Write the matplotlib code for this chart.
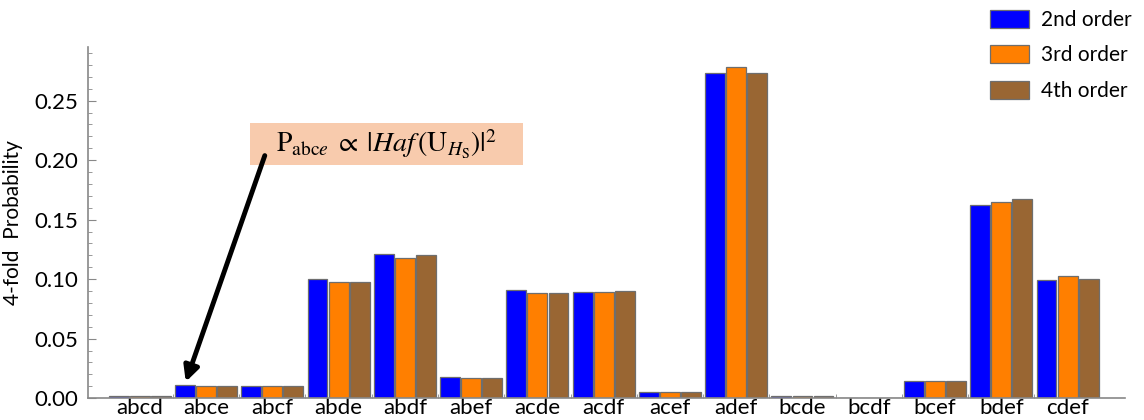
import numpy as np
import matplotlib
matplotlib.use("Agg")
import matplotlib.pyplot as plt
from matplotlib.patches import Rectangle
from matplotlib.ticker import MultipleLocator, FixedLocator

plt.rcParams['font.family'] = ['Lato', 'DejaVu Sans']
plt.rcParams['mathtext.fontset'] = 'stix'

# four-fold coincidence patterns and their probabilities per expansion order
patterns = ['abcd', 'abce', 'abcf', 'abde', 'abdf', 'abef', 'acde', 'acdf',
            'acef', 'adef', 'bcde', 'bcdf', 'bcef', 'bdef', 'cdef']
order2 = [0.002, 0.011, 0.010, 0.100, 0.121, 0.018, 0.091, 0.089,
          0.005, 0.2735, 0.002, 0.0002, 0.014, 0.1625, 0.0995]
order3 = [0.0015, 0.0098, 0.0098, 0.098, 0.118, 0.017, 0.088, 0.089,
          0.005, 0.2785, 0.0015, 0.0002, 0.014, 0.165, 0.103]
order4 = [0.0015, 0.010, 0.0098, 0.098, 0.120, 0.017, 0.088, 0.090,
          0.005, 0.2735, 0.0015, 0.0002, 0.014, 0.1675, 0.100]
series = [('2nd order', order2, '#0000ff'),
          ('3rd order', order3, '#ff7f00'),
          ('4th order', order4, '#996633')]

fig = plt.figure(figsize=(11.44, 4.2), dpi=100)
ax = fig.add_axes([0.077, 0.052, 0.906, 0.836])

x = np.arange(len(patterns))
step = 0.318
w = 0.3
bars = []
for i, (name, vals, col) in enumerate(series):
    b = ax.bar(x + (i - 1) * step, vals, w, color=col, edgecolor='#6e6e6e',
               linewidth=0.9, label=name)
    bars.append(b)

ax.set_xlim(-0.78, 14.86)
ax.set_ylim(0, 0.295)
ax.set_xticks(x)
ax.set_xticklabels(patterns, fontsize=16)
ax.xaxis.set_minor_locator(FixedLocator(x[:-1] + 0.5))
ax.tick_params(axis='x', which='major', length=0, pad=0)
ax.tick_params(axis='x', which='minor', length=3, direction='in', color='#888888')

ax.yaxis.set_minor_locator(MultipleLocator(0.01))
yt = np.arange(0, 0.26, 0.05)
ax.set_yticks(yt)
ax.set_yticklabels(['%.2f' % v for v in yt], fontsize=16)
ax.tick_params(axis='y', which='major', length=6, direction='in', color='#888888', pad=7)
ax.tick_params(axis='y', which='minor', length=3, direction='in', color='#888888')
ax.set_ylabel('4-fold  Probability', fontsize=15, labelpad=8)

for s in ['top', 'right']:
    ax.spines[s].set_visible(False)
for s in ['left', 'bottom']:
    ax.spines[s].set_color('#888888')
    ax.spines[s].set_linewidth(1.2)

# shaded formula box with an arrow pointing at the abce bar
ax.add_patch(Rectangle((1.66, 0.1955), 4.12, 0.036, facecolor='#f8cbad',
                       edgecolor='none', zorder=3))
ax.text(3.72, 0.2135,
        r'$\mathrm{P}_{\mathrm{abc}e}\;\propto\;|Haf\,(\mathrm{U}_{H_\mathrm{S}})|^2$',
        fontsize=20, ha='center', va='center', zorder=4)
ax.annotate('', xy=(0.68, 0.0115), xytext=(1.9, 0.206),
            arrowprops=dict(arrowstyle='-|>,head_length=0.9,head_width=0.45',
                            color='black', lw=3.5), zorder=5)

fig.legend(handles=bars, loc='upper right', bbox_to_anchor=(1.002, 1.012),
           frameon=False, fontsize=15, handlelength=1.85, handleheight=0.95,
           labelspacing=0.75, handletextpad=0.6, borderaxespad=0.3)

fig.savefig('out.png', dpi=100)
